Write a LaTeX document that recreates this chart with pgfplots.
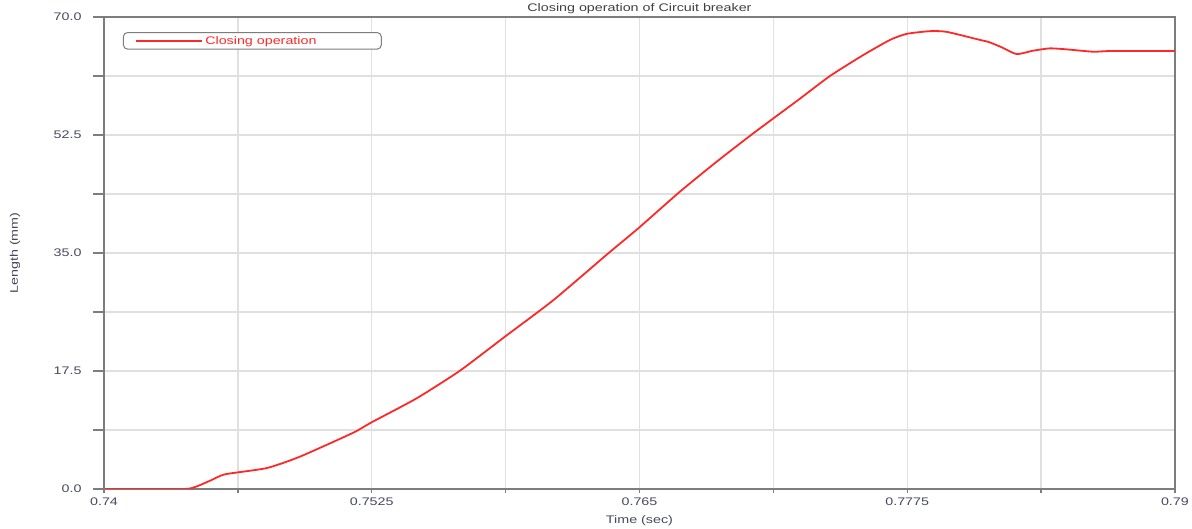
\documentclass[border=0pt]{standalone}
\usepackage{fontspec}
\setmainfont[FakeStretch=1.3]{Liberation Sans}
\usepackage{pgfplots}
\pgfplotsset{compat=1.18}
\definecolor{curve}{RGB}{255,40,40}
\definecolor{axisgray}{RGB}{125,125,125}
\definecolor{gridgray}{RGB}{224,224,224}
\definecolor{labcol}{RGB}{70,72,95}

\pgfplotstableread{
t y
0.740000 0.00
0.743700 0.00
0.744300 0.35
0.745000 1.30
0.745649 2.18
0.747596 3.10
0.749150 4.80
0.751639 8.35
0.752465 9.84
0.754598 13.45
0.756620 17.55
0.758721 22.60
0.760976 28.00
0.763543 34.95
0.764944 38.66
0.766890 44.10
0.768604 48.54
0.770313 52.75
0.772413 57.70
0.773893 61.25
0.775448 64.36
0.776695 66.60
0.777474 67.50
0.778562 67.90
0.779342 67.80
0.780896 66.60
0.781300 66.30
0.781920 65.50
0.782610 64.50
0.783371 65.00
0.784164 65.35
0.784944 65.20
0.786186 64.85
0.786965 64.95
0.790000 64.95
}\closingdata

\begin{document}
\begin{tikzpicture}
\pgfplotsset{every axis/.append style={font=\fontsize{11}{13}\selectfont}}
\begin{axis}[
  at={(0pt,0pt)}, anchor=south west,
  scale only axis, width=1071pt, height=472pt,
  xmin=0.74, xmax=0.79, ymin=0, ymax=70,
  xtick={0.74,0.7525,0.765,0.7775,0.79},
  minor xtick={0.74625,0.75875,0.77125,0.78375},
  xticklabels={0.74,0.7525,0.765,0.7775,0.79},
  ytick={0,17.5,35,52.5,70},
  minor ytick={8.75,26.25,43.75,61.25},
  yticklabels={0.0,17.5,35.0,52.5,70.0},
  /pgf/number format/assume math mode=true,
  xtick pos=bottom, ytick pos=left,
  grid=both,
  major grid style={gridgray, line width=1.3pt},
  minor grid style={gridgray, line width=1.3pt},
  tick align=outside,
  major tick length=4pt, minor tick length=4pt,
  tick style={axisgray, line width=1.4pt},
  axis line style={axisgray, line width=1.6pt},
  ticklabel style={text=labcol},
  yticklabel style={xshift=-15pt},
  xticklabel style={yshift=-1pt},
  every axis title shift=0pt,
  title={Closing operation of Circuit breaker},
  title style={at={(axis description cs:0.5,1)}, anchor=base, yshift=6pt, text=black!75, font=\fontsize{11}{13}\selectfont},
  xlabel={Time (sec)},
  xlabel style={at={(axis description cs:0.5,-0.0678)}, anchor=center, text=labcol},
  ylabel={Length (mm)},
  ylabel style={at={(axis description cs:-0.0831,0.5)}, anchor=center, text=labcol},
  legend style={at={(0.0177,0.968)}, anchor=north west, draw=axisgray,
    line width=1pt, rounded corners=4pt, fill=white, inner xsep=12pt, inner ysep=1.5pt},
  legend image code/.code={\draw[curve, line width=1.8pt] (0pt,0pt) -- (66pt,0pt);},
]
\addplot[curve, line width=1.8pt, smooth, tension=0.35] table[x=t, y=y] {\closingdata};
\addlegendentry{\makebox[162pt][l]{\textcolor{curve}{Closing operation}}}
\end{axis}
\begin{axis}[
  at={(0pt,0pt)}, anchor=south west,
  scale only axis, width=1071pt, height=472pt,
  xmin=0.74, xmax=0.79, ymin=0, ymax=70,
  hide x axis, axis y line*=left,
  ytick={0,17.5,35,52.5,70},
  minor ytick={8.75,26.25,43.75,61.25},
  yticklabels={},
  tick align=outside,
  major tick length=11pt, minor tick length=11pt,
  tick style={axisgray, line width=1.4pt},
  axis line style={axisgray, line width=1.6pt, -},
]
\end{axis}
\pgfresetboundingbox
\path (-104pt,-40pt) rectangle (1088pt,489pt);
\end{tikzpicture}
\end{document}
